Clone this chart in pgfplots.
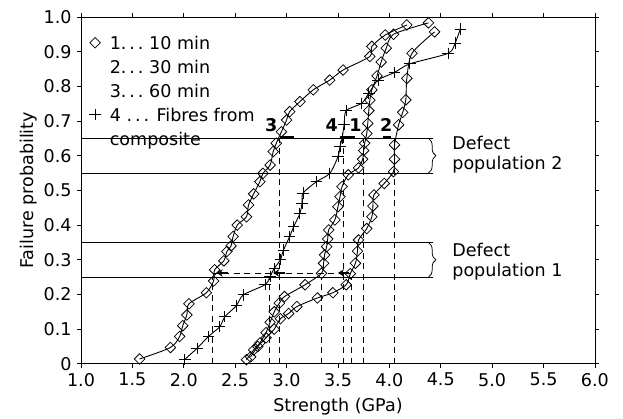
\documentclass[border=0pt]{standalone}
\usepackage{fontspec}
\setmainfont{DejaVu Sans}
\usepackage{pgfplots}
\pgfplotsset{compat=1.18}
\usetikzlibrary{decorations.pathreplacing,arrows.meta}

\begin{document}
\begin{tikzpicture}
\begin{axis}[
  width=342.7pt, height=231.3pt, scale only axis,
  xmin=1, xmax=6, ymin=0, ymax=1,
  xtick={1,1.5,2,2.5,3,3.5,4,4.5,5,5.5,6},
  xticklabels={1.0,1.5,2.0,2.5,3.0,3.5,4.0,4.5,5.0,5.5,6.0},
  ytick={0,0.1,0.2,0.3,0.4,0.5,0.6,0.7,0.8,0.9,1.0},
  yticklabels={0,0.1,0.2,0.3,0.4,0.5,0.6,0.7,0.8,0.9,1.0},
  tick align=outside, major tick length=2.7pt,
  tick style={black, line width=0.5pt},
  axis line style={line width=0.6pt},
  font=\fontsize{11.7}{13.3}\selectfont,
  xlabel={Strength (GPa)}, ylabel={Failure probability},
  xlabel style={at={(axis description cs:0.5,-0.124)}, anchor=center},
  ylabel style={at={(axis description cs:-0.101,0.5)}, anchor=center},
  every axis plot/.append style={black, line width=0.6pt, smooth, tension=0.45},
  legend style={at={(axis cs:1.01,0.961)}, anchor=north west, draw=none, fill=none,
    inner sep=0pt, row sep=0pt, column sep=4pt,
    cells={anchor=west, text height=10.5pt, text depth=3.5pt, inner sep=0pt},
    font=\fontsize{11.7}{13.3}\selectfont},
  legend cell align=left,
]
% band boundaries of the two defect populations
\draw[line width=0.5pt] (axis cs:1,0.25) -- (axis cs:4.42,0.25);
\draw[line width=0.5pt] (axis cs:1,0.35) -- (axis cs:4.42,0.35);
\draw[line width=0.5pt] (axis cs:1,0.55) -- (axis cs:4.42,0.55);
\draw[line width=0.5pt] (axis cs:1,0.65) -- (axis cs:4.42,0.65);

% characteristic strengths of each curve
\begin{scope}[line width=0.45pt, dash pattern=on 4pt off 3pt]
\draw (axis cs:2.28,0) -- (axis cs:2.28,0.25);
\draw (axis cs:2.83,0) -- (axis cs:2.83,0.25);
\draw (axis cs:3.34,0) -- (axis cs:3.34,0.25);
\draw (axis cs:3.63,0) -- (axis cs:3.63,0.25);
\draw (axis cs:2.93,0) -- (axis cs:2.93,0.65);
\draw (axis cs:3.55,0) -- (axis cs:3.55,0.65);
\draw (axis cs:3.75,0) -- (axis cs:3.75,0.65);
\draw (axis cs:4.05,0) -- (axis cs:4.05,0.65);
\draw (axis cs:2.28,0.262) -- (axis cs:3.62,0.262);
\end{scope}

% shift of population 1
\begin{scope}[line width=1.6pt, -{Stealth[length=4pt,width=5pt]}]
\draw (axis cs:2.43,0.262) -- (axis cs:2.32,0.262);
\draw (axis cs:2.98,0.262) -- (axis cs:2.87,0.262);
\draw (axis cs:3.61,0.262) -- (axis cs:3.50,0.262);
\end{scope}
% shift of population 2
\begin{scope}[line width=1.8pt]
\draw (axis cs:2.94,0.653) -- (axis cs:3.07,0.653);
\draw (axis cs:3.52,0.653) -- (axis cs:3.67,0.653);
\draw (axis cs:3.94,0.653) -- (axis cs:4.02,0.653);
\end{scope}

% braces and labels
\draw[decorate, decoration={brace, amplitude=5pt}, line width=0.5pt]
  (axis cs:4.38,0.65) -- (axis cs:4.38,0.55);
\draw[decorate, decoration={brace, amplitude=5pt}, line width=0.5pt]
  (axis cs:4.38,0.35) -- (axis cs:4.38,0.25);
\node[anchor=west, align=left, inner sep=0pt, font=\fontsize{11.7}{13.3}\selectfont]
  at (axis cs:4.61,0.602) {Defect\\population 2};
\node[anchor=west, align=left, inner sep=0pt, font=\fontsize{11.7}{13.3}\selectfont]
  at (axis cs:4.61,0.294) {Defect\\population 1};
\node[font=\fontsize{11.7}{13}\selectfont\bfseries] at (axis cs:2.85,0.689) {3};
\node[font=\fontsize{11.7}{13}\selectfont\bfseries] at (axis cs:3.44,0.689) {4};
\node[font=\fontsize{11.7}{13}\selectfont\bfseries] at (axis cs:3.67,0.689) {1};
\node[font=\fontsize{11.7}{13}\selectfont\bfseries] at (axis cs:3.97,0.689) {2};

% legend
\addlegendimage{only marks, mark=square, mark size=2.5pt, mark options={rotate=45, line width=0.5pt}}
\addlegendentry{1.\,.\,.\ 10 min}
\addlegendimage{empty legend}
\addlegendentry{2.\,.\,.\ 30 min}
\addlegendimage{empty legend}
\addlegendentry{3.\,.\,.\ 60 min}
\addlegendimage{only marks, mark=+, mark size=3.8pt}
\addlegendentry{4 .\,.\,. Fibres from}
\addlegendimage{empty legend}
\addlegendentry{composite}

% 1 ... 10 min
\addplot[mark=square, mark size=2.5pt, mark options={rotate=45, line width=0.5pt}, forget plot]
coordinates {
(2.61,0.012)(2.68,0.04)(2.74,0.06)(2.80,0.09)(2.84,0.12)(2.88,0.15)(2.93,0.175)
(2.98,0.194)(3.18,0.228)(3.34,0.261)(3.36,0.29)(3.37,0.314)(3.39,0.338)(3.40,0.36)
(3.41,0.386)(3.47,0.415)(3.50,0.453)(3.52,0.482)(3.54,0.511)(3.60,0.545)(3.70,0.565)
(3.74,0.59)(3.75,0.615)(3.76,0.636)(3.78,0.664)(3.79,0.693)(3.80,0.73)(3.81,0.76)
(3.83,0.79)(3.88,0.83)(3.92,0.87)(3.97,0.91)(4.04,0.95)(4.38,0.983)
};
% 2 ... 30 min
\addplot[mark=square, mark size=2.5pt, mark options={rotate=45, line width=0.5pt}, forget plot]
coordinates {
(2.65,0.02)(2.72,0.05)(2.80,0.075)(2.88,0.10)(2.94,0.13)(3.02,0.145)(3.10,0.165)
(3.30,0.19)(3.45,0.205)(3.58,0.228)(3.62,0.26)(3.67,0.29)(3.69,0.325)(3.70,0.357)
(3.78,0.39)(3.83,0.424)(3.84,0.455)(3.85,0.487)(3.95,0.52)(4.04,0.554)(4.05,0.59)
(4.05,0.631)(4.09,0.689)(4.13,0.725)(4.16,0.761)(4.17,0.823)(4.22,0.895)(4.44,0.957)
};
% 3 ... 60 min
\addplot[mark=square, mark size=2.5pt, mark options={rotate=45, line width=0.5pt}, forget plot]
coordinates {
(1.57,0.014)(1.87,0.047)(1.96,0.079)(1.99,0.11)(2.03,0.141)(2.05,0.173)(2.22,0.205)
(2.29,0.239)(2.30,0.271)(2.39,0.297)(2.42,0.324)(2.46,0.34)(2.48,0.367)(2.52,0.40)
(2.61,0.424)(2.63,0.458)(2.68,0.49)(2.74,0.525)(2.77,0.549)(2.84,0.573)(2.87,0.612)
(2.90,0.636)(2.95,0.669)(3.00,0.703)(3.03,0.727)(3.13,0.756)(3.26,0.79)(3.42,0.818)
(3.55,0.847)(3.81,0.886)(3.83,0.915)(3.96,0.948)(4.17,0.977)
};
% 4 ... fibres from composite
\addplot[mark=+, mark size=3.8pt, forget plot]
coordinates {
(2.01,0.013)(2.13,0.045)(2.24,0.079)(2.35,0.107)(2.40,0.136)(2.51,0.167)(2.58,0.199)
(2.79,0.228)(2.84,0.252)(2.88,0.275)(2.94,0.30)(2.97,0.328)(3.03,0.367)(3.07,0.396)
(3.13,0.434)(3.15,0.463)(3.16,0.492)(3.29,0.525)(3.42,0.549)(3.50,0.597)(3.52,0.626)
(3.54,0.65)(3.56,0.69)(3.58,0.73)(3.73,0.751)(3.80,0.78)(3.89,0.818)(4.05,0.84)
(4.20,0.865)(4.57,0.895)(4.64,0.925)(4.69,0.965)
};
\end{axis}
% page extent around the axis box
\pgfresetboundingbox
\path ([shift={(-54pt,-36.7pt)}]current axis.south west)
  rectangle ([shift={(18.7pt,11.3pt)}]current axis.north east);
\end{tikzpicture}
\end{document}
